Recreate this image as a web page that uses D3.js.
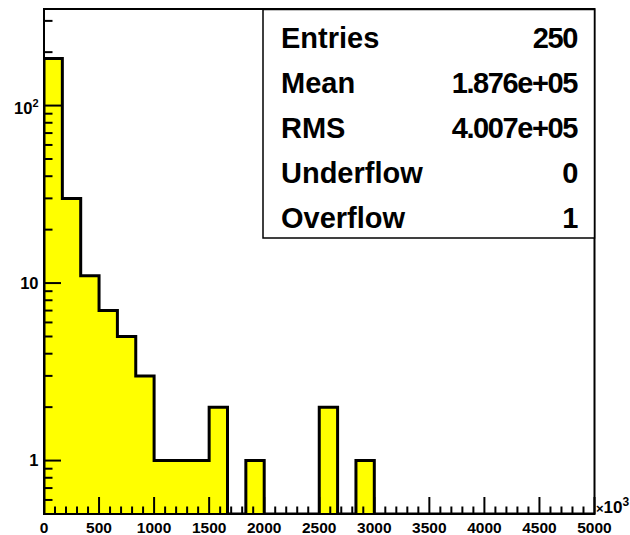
<!DOCTYPE html>
<html>
<head>
<meta charset="utf-8">
<script src="https://cdn.jsdelivr.net/npm/d3@7"></script>
<style>
  body { margin: 0; background: #fff; color: #000; }
  svg { display: block; font-family: "Liberation Sans", Arial, sans-serif; font-weight: bold; }
</style>
</head>
<body>
<svg id="hist" width="630" height="535"></svg>
<script>
// histogram: 30 bins from 0 to 5000 (x10^3)
let xMin = 0;
let xMax = 5000;
let binCounts = [184, 30, 11, 7, 5, 3, 1, 1, 1, 2, 0, 1, 0, 0, 0, 2, 0, 1, 0, 0, 0, 0, 0, 0, 0, 0, 0, 0, 0, 0];
let xTickLabels = [0, 500, 1000, 1500, 2000, 2500, 3000, 3500, 4000, 4500, 5000];
let yMajorTicks = [1, 10, 100];
let yTickLabels = [["1", ""], ["10", ""], ["10", "2"]];
let statNames = ["Entries", "Mean", "RMS", "Underflow", "Overflow"];
let statValues = ["250", "1.876e+05", "4.007e+05", "0", "1"];

let svg = d3.select("#hist");
let padLeft = 44, padRight = 594.5, padTop = 9, padBottom = 514;
let binWidth = (xMax - xMin) / binCounts.length;

let x = d3.scaleLinear().domain([xMin, xMax]).range([padLeft, padRight]);
let y = d3.scaleLog().domain([0.5, 350]).range([padBottom, padTop]).clamp(true);

svg.append("defs").append("clipPath").attr("id", "plotClip")
    .append("rect").attr("x", padLeft).attr("y", padTop)
    .attr("width", padRight - padLeft).attr("height", padBottom - padTop);

// step outline of the histogram
let pts = [[xMin, 0.5]];
binCounts.forEach((c, i) => {
    let v = c > 0 ? c : 0.5;
    pts.push([xMin + i * binWidth, v]);
    pts.push([xMin + (i + 1) * binWidth, v]);
});
pts.push([xMax, 0.5]);

let line = d3.line().x(d => x(d[0])).y(d => y(d[1]));

let plot = svg.append("g").attr("clip-path", "url(#plotClip)");
plot.append("path").datum(pts)
    .attr("d", line)
    .attr("fill", "#ffff00")
    .attr("stroke", "none");
plot.append("path").datum(pts)
    .attr("d", line)
    .attr("fill", "none")
    .attr("stroke", "#000")
    .attr("stroke-width", 3)
    .attr("stroke-linejoin", "miter");

// frame
svg.append("rect")
    .attr("x", padLeft).attr("y", padTop)
    .attr("width", padRight - padLeft).attr("height", padBottom - padTop)
    .attr("fill", "none").attr("stroke", "#000").attr("stroke-width", 2);

// ticks, drawn inwards like ROOT
let xMinor = d3.range(xMin, xMax + 1, 100).filter(v => v % 500 != 0);
let yMinor = [];
[0.1, 1, 10, 100].forEach(dec => {
    for (let k = 2; k <= 9; k++) {
        let v = dec * k;
        if (v >= 0.5 && v <= 350) yMinor.push(v);
    }
});
let ticks = svg.append("g").attr("stroke", "#000").attr("stroke-width", 2);
ticks.selectAll("line.xmin").data(xMinor).enter().append("line")
    .attr("class", "xmin")
    .attr("x1", d => x(d)).attr("x2", d => x(d))
    .attr("y1", padBottom).attr("y2", padBottom - 7.5);
ticks.selectAll("line.xmaj").data(xTickLabels).enter().append("line")
    .attr("class", "xmaj")
    .attr("x1", d => x(d)).attr("x2", d => x(d))
    .attr("y1", padBottom).attr("y2", padBottom - 17);
ticks.selectAll("line.ymin").data(yMinor).enter().append("line")
    .attr("class", "ymin")
    .attr("x1", padLeft).attr("x2", padLeft + 8.5)
    .attr("y1", d => y(d)).attr("y2", d => y(d));
ticks.selectAll("line.ymaj").data(yMajorTicks).enter().append("line")
    .attr("class", "ymaj")
    .attr("x1", padLeft).attr("x2", padLeft + 17)
    .attr("y1", d => y(d)).attr("y2", d => y(d));

// x labels
svg.append("g").selectAll("text")
    .data(xTickLabels)
    .enter().append("text")
    .attr("x", d => x(d))
    .attr("y", 532.5)
    .attr("text-anchor", "middle")
    .attr("fill", "#000")
    .attr("font-size", "15.5px")
    .text(d => d);

let expo = svg.append("text")
    .attr("x", 596).attr("y", 513)
    .attr("fill", "#000")
    .attr("font-size", "17px");
expo.append("tspan").attr("font-size", "13px").text("\u00d7");
expo.append("tspan").text("10");
expo.append("tspan").attr("font-size", "12px").attr("dy", -7).text("3");

// y labels
let yLab = svg.append("g").selectAll("text")
    .data(yMajorTicks)
    .enter().append("text")
    .attr("x", 38.5)
    .attr("y", (d, i) => y(d) + 5.8 + (yTickLabels[i][1] ? 3 : 0))
    .attr("text-anchor", "end")
    .attr("fill", "#000")
    .attr("font-size", "16.5px");
yLab.append("tspan").text((d, i) => yTickLabels[i][0]);
yLab.append("tspan")
    .attr("font-size", "11px")
    .attr("dy", -7)
    .text((d, i) => yTickLabels[i][1]);

// statistics box
let boxLeft = 263, boxTop = 9.5, boxRight = 594.5, boxBottom = 238;
svg.append("rect")
    .attr("x", boxLeft).attr("y", boxTop)
    .attr("width", boxRight - boxLeft).attr("height", boxBottom - boxTop)
    .attr("fill", "#fff").attr("stroke", "#000").attr("stroke-width", 1.5);

let rowY = d3.scaleLinear().domain([0, statNames.length - 1]).range([47.5, 228]);
let stats = svg.append("g").selectAll("g")
    .data(statNames)
    .enter().append("g");
stats.append("text")
    .attr("x", 281)
    .attr("y", (d, i) => rowY(i))
    .attr("font-size", "29px")
    .text(d => d);
stats.append("text")
    .attr("x", 577)
    .attr("y", (d, i) => rowY(i))
    .attr("text-anchor", "end")
    .attr("font-size", "29px")
    .attr("letter-spacing", "-1.4px")
    .text((d, i) => statValues[i]);
</script>
</body>
</html>
